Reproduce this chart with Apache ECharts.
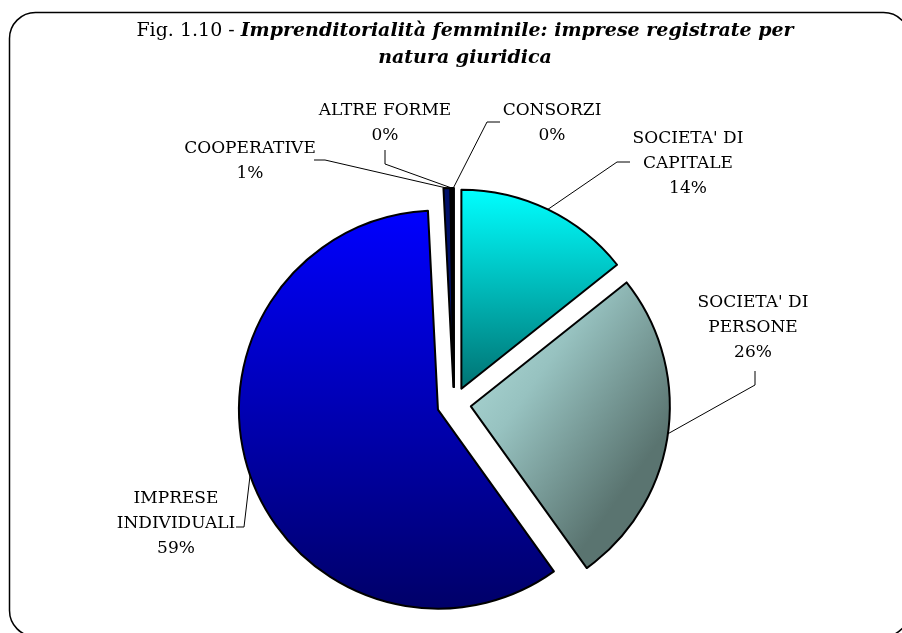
<!DOCTYPE html>
<html>
<head>
<meta charset="utf-8">
<script src="https://cdn.jsdelivr.net/npm/echarts@6/dist/echarts.min.js"></script>
<style>
  html, body { margin: 0; padding: 0; background: #fff; }
  #pieCharts { width: 902px; height: 633px; }
</style>
</head>
<body>
<div id="pieCharts"></div>
<script>
// imprese registrate per natura giuridica (quote %)
var categories = ["SOCIETA' DI CAPITALE", "SOCIETA' DI PERSONE", 'IMPRESE INDIVIDUALI', 'COOPERATIVE', 'ALTRE FORME', 'CONSORZI'];
var shares = [14.3, 25.8, 59.1, 0.55, 0.15, 0.1];

// colori delle fette (sfumature come nell'originale)
var sliceColors = [
  { type: 'linear', x: 0, y: 0, x2: 0, y2: 1, colorStops: [{ offset: 0, color: '#00ffff' }, { offset: 1, color: '#007272' }] },
  { type: 'linear', x: 0, y: 0, x2: 1, y2: 0.5, colorStops: [{ offset: 0, color: '#b6e3e0' }, { offset: 0.45, color: '#97c2c0' }, { offset: 1, color: '#5a7470' }] },
  { type: 'linear', x: 0, y: 0, x2: 0, y2: 1, colorStops: [{ offset: 0, color: '#0000ff' }, { offset: 1, color: '#000068' }] },
  '#00106a',
  '#000000',
  '#101010'
];

// posizione delle etichette e punti delle linee guida
var labelPos = [[688, 164], [753, 328], [176, 524], [250, 161], [385, 123], [552, 123]];
var labelGuides = [
  [[617, 162], [630, 162]],
  [[755, 385], [755, 371]],
  [[244, 527], [236, 527]],
  [[325, 160], [314, 160]],
  [[385, 164], [385, 150]],
  [[487, 122], [500, 122]]
];

var pieCenter = [454, 404];
var pieRadius = 199;
var explode = 17;
var serif = 'DejaVu Serif';

var chart = echarts.init(document.getElementById('pieCharts'));

var total = shares.reduce(function (a, b) { return a + b; }, 0);

// una serie per fetta, così ogni fetta "esplosa" ha il suo centro
var series = [];
var cum = 0;
shares.forEach(function (v, i) {
  var mid = (cum + v / 2) / total * Math.PI * 2;
  cum += v;
  series.push({
    type: 'pie',
    center: [pieCenter[0] + explode * Math.sin(mid), pieCenter[1] - explode * Math.cos(mid)],
    radius: pieRadius,
    startAngle: 90,
    clockwise: true,
    avoidLabelOverlap: false,
    percentPrecision: 0,
    silent: true,
    emphasis: { disabled: true },
    label: {
      position: 'outside',
      color: '#000',
      fontFamily: serif,
      fontSize: 17,
      lineHeight: 25,
      align: 'center',
      formatter: function (p) {
        var name = p.name.replace("SOCIETA' DI ", "SOCIETA' DI\n").replace('IMPRESE ', 'IMPRESE\n');
        return name + '\n' + p.percent + '%';
      }
    },
    labelLine: { lineStyle: { color: '#000', width: 1 } },
    labelLayout: function (params) {
      var j = params.dataIndex;
      var pts = params.labelLinePoints;
      var out = { x: labelPos[j][0], y: labelPos[j][1], align: 'center', verticalAlign: 'middle' };
      if (pts && pts.length) {
        out.labelLinePoints = [[pts[0][0], pts[0][1]], labelGuides[j][0], labelGuides[j][1]];
      }
      return out;
    },
    data: categories.map(function (c, j) {
      var own = j === i;
      return {
        name: c,
        value: shares[j],
        itemStyle: own
          ? { color: sliceColors[j], borderColor: '#000', borderWidth: 2 }
          : { color: 'rgba(0,0,0,0)', borderWidth: 0 },
        label: { show: own },
        labelLine: { show: own }
      };
    })
  });
});

var option = {
  animation: false,
  graphic: [
    {
      type: 'rect',
      shape: { x: 9.5, y: 12.5, width: 900, height: 624, r: 26 },
      style: { fill: 'none', stroke: '#000', lineWidth: 1.5 },
      z: 0
    },
    {
      type: 'text',
      x: 465,
      y: 18,
      style: {
        text: '{n|Fig. 1.10 - }{b|Imprenditorialità femminile: imprese registrate per}\n{b|natura giuridica}',
        align: 'center',
        verticalAlign: 'top',
        fill: '#000',
        rich: {
          n: { fontFamily: serif, fontSize: 19, lineHeight: 27 },
          b: { fontFamily: serif, fontSize: 19, fontStyle: 'italic', fontWeight: 'bold', lineHeight: 27 }
        }
      }
    }
  ],
  series: series
};

chart.setOption(option);
</script>
</body>
</html>
